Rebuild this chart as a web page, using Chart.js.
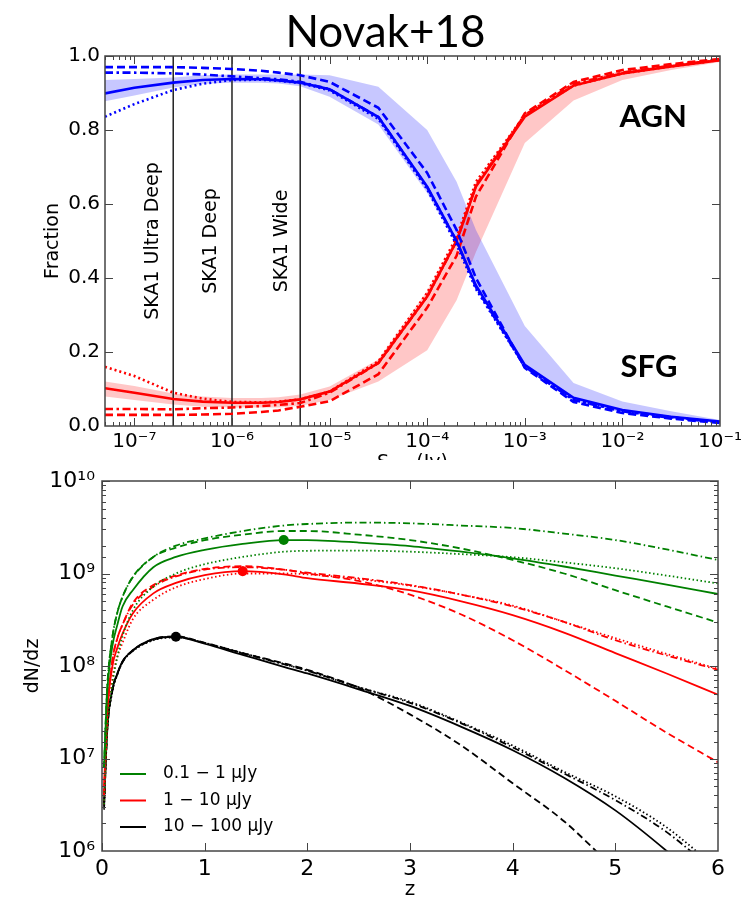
<!DOCTYPE html>
<html>
<head>
<meta charset="utf-8">
<script src="https://cdn.jsdelivr.net/npm/chart.js@4.4.1/dist/chart.umd.min.js"></script>
<style>
  html, body { margin: 0; padding: 0; background: #fff; }
  #wrap { position: relative; width: 753px; height: 897px; overflow: hidden; }
  #title { position: absolute; left: 9px; width: 753px; top: 8px; text-align: center; line-height: 1;
           font-size: 44px; font-family: Lato, sans-serif; color: #000; z-index: 3; }
  #fracChart { position: absolute; left: 0; top: 0; z-index: 1; }
  #dndzChart { position: absolute; left: 0; top: 460px; z-index: 2; background: #fff; }
</style>
</head>
<body>
<div id="wrap">
  <div id="title">Novak+18</div>
  <canvas id="fracChart" width="753" height="490"></canvas>
  <canvas id="dndzChart" width="753" height="437"></canvas>
</div>
<script>
// ---- top panel: fraction of SFG / AGN vs flux density ----
const fluxJy = [5e-8, 1e-7, 2.5e-7, 5e-7, 1e-6, 2e-6, 3e-6, 5e-6, 1e-5, 3.16e-5, 1e-4, 2e-4, 3.16e-4, 1e-3, 3.16e-3, 1e-2, 3.16e-2, 1e-1];

const sfgSolid   = [0.899, 0.914, 0.928, 0.935, 0.938, 0.937, 0.934, 0.928, 0.910, 0.835, 0.647, 0.500, 0.380, 0.165, 0.076, 0.043, 0.025, 0.012];
const sfgLow     = [0.878, 0.893, 0.915, 0.925, 0.928, 0.928, 0.926, 0.918, 0.890, 0.815, 0.630, 0.490, 0.370, 0.155, 0.068, 0.036, 0.020, 0.008];
const sfgHigh    = [0.935, 0.938, 0.942, 0.948, 0.950, 0.950, 0.950, 0.950, 0.948, 0.917, 0.800, 0.660, 0.530, 0.270, 0.116, 0.066, 0.040, 0.016];
const sfgDashed  = [0.970, 0.970, 0.970, 0.968, 0.965, 0.960, 0.955, 0.948, 0.930, 0.860, 0.684, 0.530, 0.400, 0.157, 0.065, 0.035, 0.020, 0.008];
const sfgDashDot = [0.955, 0.955, 0.953, 0.950, 0.945, 0.940, 0.937, 0.930, 0.910, 0.835, 0.645, 0.500, 0.375, 0.160, 0.070, 0.040, 0.022, 0.010];
const sfgDotted  = [0.836, 0.870, 0.908, 0.925, 0.935, 0.936, 0.933, 0.927, 0.907, 0.830, 0.640, 0.490, 0.370, 0.160, 0.072, 0.040, 0.024, 0.010];

const agnSolid   = [0.102, 0.090, 0.073, 0.066, 0.063, 0.063, 0.065, 0.072, 0.093, 0.170, 0.350, 0.500, 0.647, 0.836, 0.920, 0.953, 0.972, 0.989];
const agnLow     = [0.080, 0.070, 0.058, 0.052, 0.050, 0.050, 0.050, 0.055, 0.070, 0.120, 0.205, 0.340, 0.470, 0.765, 0.880, 0.935, 0.962, 0.984];
const agnHigh    = [0.120, 0.108, 0.088, 0.080, 0.076, 0.076, 0.078, 0.085, 0.107, 0.180, 0.365, 0.510, 0.660, 0.845, 0.930, 0.960, 0.977, 0.992];
const agnDashed  = [0.030, 0.030, 0.030, 0.031, 0.033, 0.038, 0.042, 0.052, 0.067, 0.140, 0.320, 0.460, 0.620, 0.845, 0.930, 0.962, 0.978, 0.992];
const agnDashDot = [0.046, 0.046, 0.045, 0.048, 0.050, 0.054, 0.057, 0.062, 0.090, 0.170, 0.350, 0.500, 0.650, 0.840, 0.925, 0.955, 0.974, 0.990];
const agnDotted  = [0.160, 0.135, 0.090, 0.074, 0.065, 0.064, 0.066, 0.072, 0.093, 0.175, 0.360, 0.510, 0.660, 0.840, 0.920, 0.953, 0.972, 0.989];

const surveyLimits = [2.5e-7, 1e-6, 5e-6];
const surveyNames = ['SKA1 Ultra Deep', 'SKA1 Deep', 'SKA1 Wide'];
const surveyTextAt = [1.74e-7, 6.9e-7, 3.69e-6];

// ---- bottom panel: dN/dz for three flux bins ----
const zGrid = [0.02, 0.05, 0.1, 0.15, 0.2, 0.3, 0.5, 0.72, 1, 1.37, 1.77, 2, 2.5, 3, 3.5, 4, 4.5, 5, 5.5, 6];

const greenSolid   = [7.9e6, 5.0e7, 1.62e8, 2.8e8, 4.4e8, 6.6e8, 1.17e9, 1.51e9, 1.8e9, 2.09e9, 2.3e9, 2.29e9, 2.16e9, 1.98e9, 1.72e9, 1.46e9, 1.19e9, 9.5e8, 7.6e8, 6.0e8];
const greenDashed  = [7.9e6, 5.6e7, 2.0e8, 3.8e8, 5.6e8, 9.2e8, 1.51e9, 1.9e9, 2.29e9, 2.63e9, 2.88e9, 2.88e9, 2.63e9, 2.3e9, 1.86e9, 1.4e9, 1.0e9, 6.6e8, 4.4e8, 2.95e8];
const greenDashDot = [7.9e6, 5.6e7, 2.0e8, 3.8e8, 5.6e8, 9.1e8, 1.51e9, 2.0e9, 2.4e9, 2.88e9, 3.3e9, 3.43e9, 3.55e9, 3.49e9, 3.3e9, 3.1e9, 2.7e9, 2.3e9, 1.82e9, 1.4e9];
const greenDotted  = [3.2e6, 2.0e7, 6.3e7, 1.26e8, 2.1e8, 4.0e8, 7.2e8, 1.0e9, 1.26e9, 1.51e9, 1.72e9, 1.76e9, 1.77e9, 1.72e9, 1.62e9, 1.5e9, 1.32e9, 1.14e9, 9.5e8, 7.8e8];

const redSolid   = [5.0e6, 3.1e7, 9.8e7, 1.58e8, 2.24e8, 3.7e8, 6.1e8, 7.9e8, 9.6e8, 1.06e9, 9.8e8, 8.9e8, 7.8e8, 6.6e8, 5.0e8, 3.55e8, 2.3e8, 1.38e8, 8.3e7, 4.9e7];
const redDashed  = [4.0e6, 2.8e7, 1.12e8, 2.0e8, 2.8e8, 4.8e8, 7.5e8, 9.5e8, 1.12e9, 1.2e9, 1.1e9, 1.0e9, 8.3e8, 5.9e8, 3.6e8, 1.9e8, 9.1e7, 4.2e7, 1.9e7, 9.1e6];
const redDashDot = [4.0e6, 2.8e7, 1.12e8, 2.0e8, 2.8e8, 4.6e8, 7.2e8, 9.3e8, 1.1e9, 1.17e9, 1.1e9, 1.02e9, 8.9e8, 7.5e8, 5.9e8, 4.4e8, 3.0e8, 1.9e8, 1.3e8, 9.1e7];
const redDotted  = [3.2e6, 2.0e7, 7.1e7, 1.26e8, 1.78e8, 3.2e8, 5.2e8, 7.1e8, 8.7e8, 1.0e9, 1.0e9, 9.8e8, 8.7e8, 7.4e8, 5.9e8, 4.5e8, 3.0e8, 2.0e8, 1.35e8, 9.3e7];

const blackSolid   = [3.2e6, 2.0e7, 5.5e7, 8.3e7, 1.12e8, 1.48e8, 1.95e8, 2.07e8, 1.74e8, 1.32e8, 9.8e7, 8.3e7, 5.6e7, 3.7e7, 2.2e7, 1.23e7, 6.2e6, 2.75e6, 1.0e6, 3.2e5];
const blackDashed  = [3.2e6, 2.0e7, 5.5e7, 8.3e7, 1.12e8, 1.48e8, 1.95e8, 2.09e8, 1.78e8, 1.38e8, 1.07e8, 9.1e7, 5.8e7, 3.0e7, 1.38e7, 5.4e6, 2.1e6, 6.3e5, 2.0e5, 6.3e4];
const blackDashDot = [2.9e6, 1.9e7, 5.3e7, 8.2e7, 1.1e8, 1.46e8, 1.92e8, 2.05e8, 1.77e8, 1.37e8, 1.05e8, 8.9e7, 5.9e7, 4.0e7, 2.4e7, 1.32e7, 6.9e6, 3.55e6, 1.6e6, 5.6e5];
const blackDotted  = [2.8e6, 1.9e7, 5.2e7, 8.1e7, 1.1e8, 1.45e8, 1.9e8, 2.04e8, 1.78e8, 1.38e8, 1.05e8, 8.9e7, 5.9e7, 4.1e7, 2.45e7, 1.38e7, 7.2e6, 3.9e6, 1.8e6, 6.3e5];

const binNames = ['0.1 \u2212 1 \u03bcJy', '1 \u2212 10 \u03bcJy', '10 \u2212 100 \u03bcJy'];
const binColors = ['#008000', '#ff0000', '#000000'];
const peakZ = [1.77, 1.37, 0.72];
const peakN = [2.3e9, 1.06e9, 2.07e8];

Chart.defaults.font.family = '"DejaVu Sans", sans-serif';
Chart.defaults.color = '#000';

const SUP = { '-': '\u207b', '0': '\u2070', '1': '\u00b9', '2': '\u00b2', '3': '\u00b3', '4': '\u2074',
              '5': '\u2075', '6': '\u2076', '7': '\u2077', '8': '\u2078', '9': '\u2079' };

function isDecade(v) {
  const e = Math.log10(v);
  return Math.abs(e - Math.round(e)) < 1e-6;
}

function powLabel(v) {
  if (!isDecade(v)) return '';
  return '10' + String(Math.round(Math.log10(v))).split('').map(c => SUP[c]).join('');
}

function pts(xs, ys) {
  return xs.map((x, i) => ({ x: x, y: ys[i] }));
}

const DASH = { solid: [], dashed: [8, 4], dashdot: [8, 3.5, 2.5, 3.5], dotted: [2, 3] };
const DASH2 = { solid: [], dashed: [7, 4], dashdot: [7, 3, 1.5, 3], dotted: [1.5, 2.5] };

function curve(xs, ys, color, dash, width, smooth) {
  return {
    data: pts(xs, ys), borderColor: color, borderWidth: width, borderDash: dash,
    pointRadius: 0, fill: false, tension: 0, order: 1,
    cubicInterpolationMode: smooth ? 'monotone' : 'default'
  };
}

function band(xs, ys, color, fillTo) {
  return {
    data: pts(xs, ys), borderWidth: 0, borderColor: 'rgba(0,0,0,0)', backgroundColor: color,
    pointRadius: 0, fill: fillTo, tension: 0, order: 5
  };
}

// matplotlib-like frame with inward ticks on all four sides
const frameTicks = {
  id: 'frameTicks',
  afterDatasetsDraw(chart) {
    const { ctx, chartArea: a } = chart;
    const xs = chart.scales.x, ys = chart.scales.y;
    ctx.save();
    ctx.strokeStyle = '#444';
    ctx.lineWidth = 1;
    ctx.beginPath();
    xs.ticks.forEach(t => {
      const px = Math.round(xs.getPixelForValue(t.value)) + 0.5;
      if (px < a.left || px > a.right) return;
      const len = xs.type === 'logarithmic' && !isDecade(t.value) ? 4 : 8;
      ctx.moveTo(px, a.bottom); ctx.lineTo(px, a.bottom - len);
      ctx.moveTo(px, a.top); ctx.lineTo(px, a.top + len);
    });
    ys.ticks.forEach(t => {
      const py = Math.round(ys.getPixelForValue(t.value)) + 0.5;
      if (py < a.top || py > a.bottom) return;
      const len = ys.type === 'logarithmic' && !isDecade(t.value) ? 4 : 8;
      ctx.moveTo(a.left, py); ctx.lineTo(a.left + len, py);
      ctx.moveTo(a.right, py); ctx.lineTo(a.right - len, py);
    });
    ctx.stroke();
    ctx.lineWidth = 1.5;
    ctx.strokeRect(a.left, a.top, a.right - a.left, a.bottom - a.top);
    ctx.restore();
  }
};

const topNotes = {
  id: 'topNotes',
  afterDatasetsDraw(chart) {
    const { ctx } = chart;
    const xs = chart.scales.x, ys = chart.scales.y;
    ctx.save();
    ctx.fillStyle = '#000';
    ctx.font = '19px "DejaVu Sans"';
    ctx.textAlign = 'center';
    ctx.textBaseline = 'alphabetic';
    surveyNames.forEach((name, i) => {
      ctx.save();
      ctx.translate(xs.getPixelForValue(surveyTextAt[i]), ys.getPixelForValue(0.5));
      ctx.rotate(-Math.PI / 2);
      ctx.fillText(name, 0, 0);
      ctx.restore();
    });
    ctx.font = 'bold 31px Lato';
    ctx.fillText('AGN', xs.getPixelForValue(0.0207), ys.getPixelForValue(0.809));
    ctx.fillText('SFG', xs.getPixelForValue(0.01875), ys.getPixelForValue(0.133));
    ctx.restore();
  }
};

const zLegend = {
  id: 'zLegend',
  afterDraw(chart) {
    const { ctx, chartArea: a } = chart;
    ctx.save();
    ctx.font = '17px "DejaVu Sans"';
    ctx.textBaseline = 'middle';
    binNames.forEach((name, i) => {
      const y = a.bottom - 77 + i * 26.5;
      ctx.strokeStyle = binColors[i];
      ctx.lineWidth = 2;
      ctx.beginPath();
      ctx.moveTo(a.left + 18, y);
      ctx.lineTo(a.left + 44, y);
      ctx.stroke();
      ctx.fillStyle = '#000';
      ctx.fillText(name, a.left + 61, y);
    });
    ctx.restore();
  }
};

const BLUE = '#0000ff', RED = '#ff0000';

const topSets = [
  band(fluxJy, sfgLow, 'rgba(0,0,255,0.22)', false),
  band(fluxJy, sfgHigh, 'rgba(0,0,255,0.22)', '-1'),
  band(fluxJy, agnLow, 'rgba(255,0,0,0.22)', false),
  band(fluxJy, agnHigh, 'rgba(255,0,0,0.22)', '-1'),
  curve(fluxJy, sfgSolid, BLUE, DASH.solid, 2.6),
  curve(fluxJy, sfgDashed, BLUE, DASH.dashed, 2.6),
  curve(fluxJy, sfgDashDot, BLUE, DASH.dashdot, 2.6),
  curve(fluxJy, sfgDotted, BLUE, DASH.dotted, 2.6),
  curve(fluxJy, agnSolid, RED, DASH.solid, 2.6),
  curve(fluxJy, agnDashed, RED, DASH.dashed, 2.6),
  curve(fluxJy, agnDashDot, RED, DASH.dashdot, 2.6),
  curve(fluxJy, agnDotted, RED, DASH.dotted, 2.6)
];
surveyLimits.forEach(s => {
  topSets.push(curve([s, s], [0, 1], '#222', [], 1.5));
});

new Chart(document.getElementById('fracChart'), {
  type: 'line',
  data: { datasets: topSets },
  options: {
    responsive: false,
    animation: false,
    layout: { padding: { top: 56, right: 33, left: 0, bottom: 0 } },
    plugins: { legend: { display: false }, tooltip: { enabled: false } },
    scales: {
      x: {
        type: 'logarithmic', min: 5e-8, max: 0.1,
        grid: { display: false, drawTicks: false }, border: { display: false },
        ticks: { autoSkip: false, maxRotation: 0, padding: 4, font: { size: 20 }, callback: v => powLabel(v) },
        title: { display: true, text: 'S\u2081.\u2084 (Jy)', font: { size: 19 }, padding: { top: 0, bottom: 16 } },
        afterFit: s => { s.height = 64; }
      },
      y: {
        min: 0, max: 1,
        grid: { display: false, drawTicks: false }, border: { display: false },
        ticks: { stepSize: 0.2, padding: 5, font: { size: 20 }, callback: v => v.toFixed(1) },
        title: { display: true, text: 'Fraction', font: { size: 19 }, padding: { top: 42, bottom: 0 } },
        afterFit: s => { s.width = 105; }
      }
    }
  },
  plugins: [frameTicks, topNotes]
});

const binSets = [
  [greenSolid, greenDashed, greenDashDot, greenDotted],
  [redSolid, redDashed, redDashDot, redDotted],
  [blackSolid, blackDashed, blackDashDot, blackDotted]
];
const styleOrder = ['solid', 'dashed', 'dashdot', 'dotted'];

const bottomSets = [];
binSets.forEach((sets, b) => {
  sets.forEach((ys, k) => {
    bottomSets.push(curve(zGrid, ys, binColors[b], DASH2[styleOrder[k]], 1.8, true));
  });
});
peakZ.forEach((z, b) => {
  bottomSets.push({
    data: [{ x: z, y: peakN[b] }], showLine: false, pointRadius: 5, pointBorderWidth: 0,
    pointBackgroundColor: binColors[b], borderColor: binColors[b], order: 0
  });
});

new Chart(document.getElementById('dndzChart'), {
  type: 'line',
  data: { datasets: bottomSets },
  options: {
    responsive: false,
    animation: false,
    layout: { padding: { top: 21, right: 35, left: 0, bottom: 0 } },
    plugins: { legend: { display: false }, tooltip: { enabled: false } },
    scales: {
      x: {
        type: 'linear', min: 0, max: 6,
        grid: { display: false, drawTicks: false }, border: { display: false },
        ticks: { stepSize: 1, maxRotation: 0, padding: 5, font: { size: 22 } },
        title: { display: true, text: 'z', font: { size: 20 }, padding: { top: 0, bottom: -5 } },
        afterFit: s => { s.height = 46; }
      },
      y: {
        type: 'logarithmic', min: 1e6, max: 1e10,
        grid: { display: false, drawTicks: false }, border: { display: false },
        ticks: { autoSkip: false, padding: 7, font: { size: 22 }, callback: v => powLabel(v) },
        title: { display: true, text: 'dN/dz', font: { size: 19 }, padding: { top: 22, bottom: 0 } },
        afterFit: s => { s.width = 102; }
      }
    }
  },
  plugins: [frameTicks, zLegend]
});
</script>
</body>
</html>
